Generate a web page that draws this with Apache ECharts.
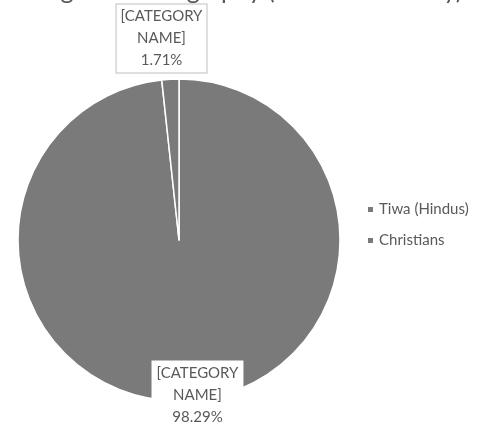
<!DOCTYPE html>
<html><head><meta charset="utf-8">
<script src="https://cdn.jsdelivr.net/npm/echarts@6/dist/echarts.min.js"></script>
<style>html,body{margin:0;padding:0;background:#fff}#c{width:483px;height:425px}</style>
</head><body><div id="c"></div>
<script>
const titleText = 'Religious demography (Tiwa community)';
const categories = ['Tiwa (Hindus)', 'Christians'];
const values = [98.29, 1.71];
const labelText = '[CATEGORY\nNAME]';

const chart = echarts.init(document.getElementById('c'));
const font = 'Lato, "Open Sans", sans-serif';
const labelOffsets = [[14, 72], [-13, -118]];
chart.setOption({
  backgroundColor: '#ffffff',
  animation: false,
  title: {
    text: titleText, left: 'center', top: -27,
    textStyle: {fontFamily: font, fontSize: 25, fontWeight: 'normal', color: '#595959'}
  },
  legend: {
    orient: 'vertical', left: 361, top: 197, itemWidth: 7, itemHeight: 7, itemGap: 16,
    icon: 'rect',
    textStyle: {fontFamily: font, fontSize: 15, color: '#595959'},
    data: categories
  },
  series: [{
    type: 'pie', center: [179, 240], radius: [0, 161], startAngle: 90, clockwise: true,
    itemStyle: {color: '#7a7a7a', borderColor: '#ffffff', borderWidth: 1.5},
    labelLine: {show: false},
    emphasis: {disabled: true},
    data: categories.map((n, i) => ({
      name: n, value: values[i],
      label: {
        show: true, position: 'inside', offset: labelOffsets[i],
        formatter: labelText + '\n' + values[i].toFixed(2) + '%',
        fontFamily: font, fontSize: 15, lineHeight: 22, color: '#595959', align: 'center',
        backgroundColor: '#ffffff', borderColor: i === 1 ? '#bfbfbf' : '#ffffff', borderWidth: 1,
        padding: [1, 4, 1, 4]
      }
    }))
  }]
});
</script></body></html>
